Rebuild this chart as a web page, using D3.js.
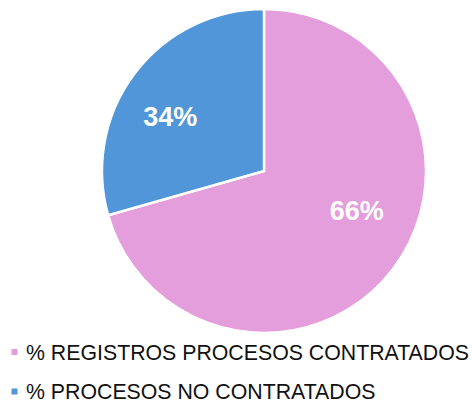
<!DOCTYPE html>
<html><head><meta charset="utf-8">
<script src="https://cdn.jsdelivr.net/npm/d3@7"></script>
<style>html,body{margin:0;padding:0;background:#fff;}svg{display:block;}</style>
</head><body>
<svg id="c" width="472" height="403"></svg>
<script>
const categories = ["% REGISTROS PROCESOS CONTRATADOS", "% PROCESOS NO CONTRATADOS"];
const sliceValues = [70.6, 29.4];      // slice sizes as drawn in the picture
const labelValues = [66, 34];          // printed percentages
const colors = ["#E49EDB", "#5096D8"];

const svg = d3.select("#c");
const cx = 264, cy = 171, R = 162;
const g = svg.append("g").attr("transform", `translate(${cx},${cy})`);

const pie = d3.pie().sort(null).value(d => d);
const arc = d3.arc().innerRadius(0).outerRadius(R);
g.selectAll("path").data(pie(sliceValues)).join("path")
  .attr("d", arc)
  .attr("fill", (d, i) => colors[i])
  .attr("stroke", "#fff").attr("stroke-width", 2.5).attr("stroke-linejoin", "miter");

// label placement (Excel-like best fit nudges)
const labelNudge = [[2, -11], [-3, -4.5]];
const labelArc = d3.arc().innerRadius(R * 0.64).outerRadius(R * 0.64);
g.selectAll("text").data(pie(labelValues)).join("text")
  .attr("transform", (d, i) => {
    const c = labelArc.centroid(d);
    return `translate(${c[0] + labelNudge[i][0]},${c[1] + labelNudge[i][1]})`;
  })
  .attr("text-anchor", "middle").attr("dy", "0.36em")
  .attr("font-family", "Liberation Sans, Arial, sans-serif")
  .attr("font-weight", "bold").attr("font-size", 27)
  .attr("fill", "#fff")
  .text(d => d.data + "%");

const leg = svg.append("g");
const rows = leg.selectAll("g").data(categories).join("g")
  .attr("transform", (d, i) => `translate(0,${352 + i * 39.5})`);
rows.append("rect").attr("x", 11.5).attr("y", -3).attr("width", 6).attr("height", 6)
  .attr("fill", (d, i) => colors[i]);
rows.append("text").attr("x", 26).attr("y", 7.5)
  .attr("font-family", "Liberation Sans, Arial, sans-serif")
  .attr("font-size", 21.3).attr("fill", "#111")
  .text(d => d);
</script>
</body></html>
